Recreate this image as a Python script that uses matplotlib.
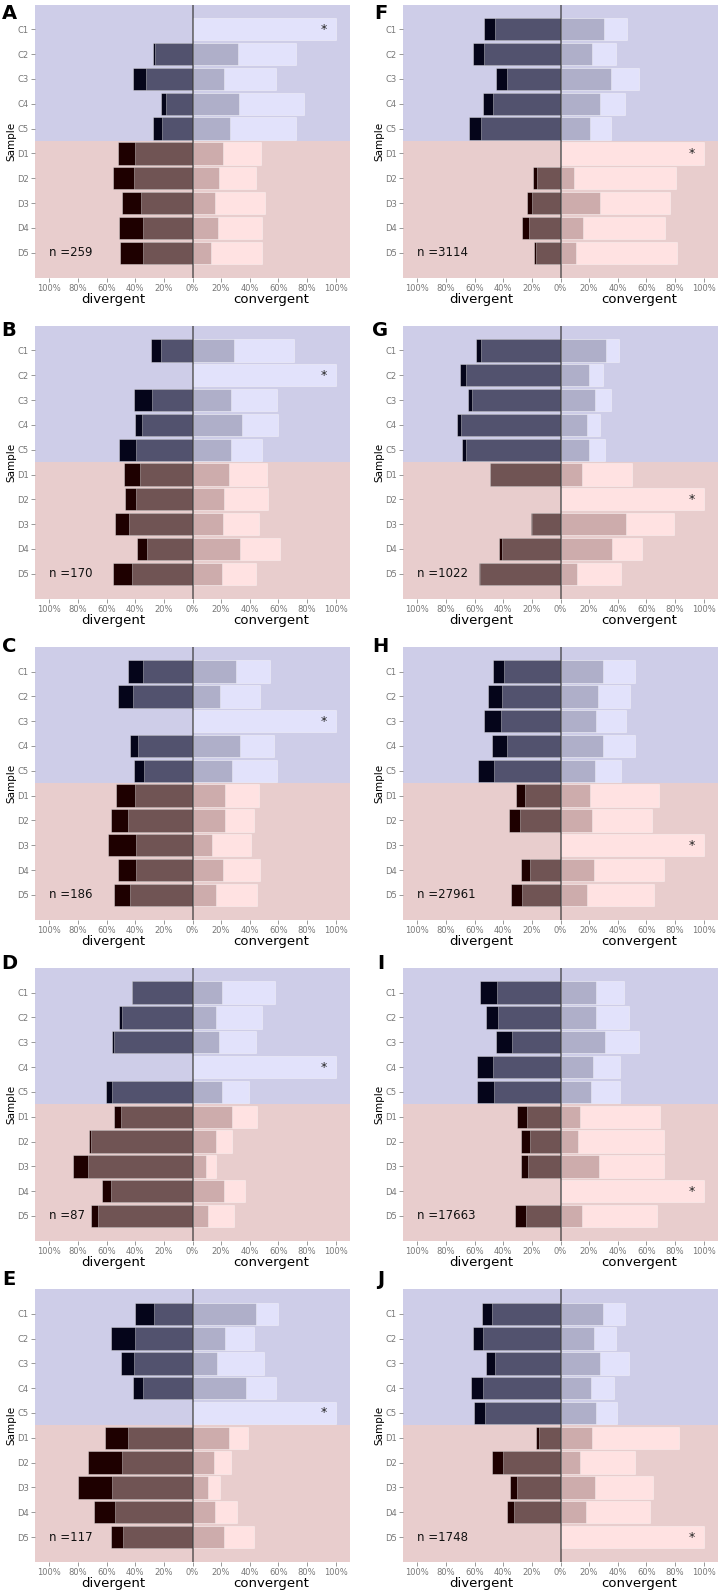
import matplotlib.pyplot as plt
import numpy as np

panels = list("ABCDEFGHIJ")
samples = ["C1", "C2", "C3", "C4", "C5", "D1", "D2", "D3", "D4", "D5"]
n_counts = [259, 170, 186, 87, 117, 3114, 1022, 27961, 17663, 1748]
self_row = [0, 1, 2, 3, 4, 5, 6, 7, 8, 9]

# outer end of the divergent bar (dark part) in %
div_total = {
    "A": [0, 27.9, 41.9, 22.1, 27.7, 51.9, 55.3, 49.5, 51.2, 50.7],
    "B": [29.1, 0, 40.9, 40.2, 51.4, 47.9, 47.2, 54.0, 39.1, 55.6],
    "C": [45.3, 52.3, 0, 43.5, 41.2, 53.5, 57.2, 59.3, 52.3, 55.1],
    "D": [42.3, 51.4, 56.0, 0, 60.7, 54.9, 72.3, 83.5, 63.0, 70.9],
    "E": [40.0, 57.0, 50.2, 41.6, 0, 61.2, 73.3, 80.0, 68.8, 57.0],
    "F": [53.5, 60.9, 45.1, 54.4, 64.2, 0, 19.3, 23.3, 27.0, 18.8],
    "G": [59.1, 70.5, 64.9, 72.6, 68.8, 49.5, 0, 20.9, 43.0, 57.2],
    "H": [47.4, 50.9, 53.5, 47.9, 57.7, 31.2, 36.0, 0, 27.4, 34.7],
    "I": [56.0, 52.1, 45.1, 58.4, 58.6, 30.2, 27.7, 27.4, 0, 32.1],
    "J": [54.9, 61.4, 51.9, 62.3, 60.5, 17.4, 47.9, 35.3, 37.7, 0],
}
# inner divergent part (medium colour)
div_inner = {
    "A": [0, 26.0, 32.6, 18.6, 21.4, 40.2, 40.7, 36.3, 34.9, 34.9],
    "B": [22.3, 0, 28.6, 35.1, 39.3, 36.7, 39.3, 44.4, 32.1, 42.1],
    "C": [34.7, 41.6, 0, 38.4, 34.0, 40.0, 44.9, 39.5, 39.5, 43.7],
    "D": [42.3, 49.3, 55.1, 0, 56.0, 50.2, 71.2, 73.0, 57.2, 66.3],
    "E": [27.0, 40.0, 40.9, 34.7, 0, 45.1, 49.3, 56.0, 54.4, 48.6],
    "F": [45.8, 53.5, 37.2, 47.4, 55.8, 0, 16.7, 20.2, 22.3, 17.2],
    "G": [55.6, 66.0, 61.6, 69.8, 65.8, 49.1, 0, 20.0, 41.2, 56.3],
    "H": [39.5, 41.2, 41.9, 37.7, 46.5, 24.9, 28.4, 0, 21.4, 27.2],
    "I": [44.4, 44.0, 34.0, 47.0, 46.5, 23.7, 21.4, 23.0, 0, 24.2],
    "J": [47.9, 54.2, 45.8, 54.2, 52.8, 14.7, 40.5, 30.7, 32.8, 0],
}
# inner convergent part (medium-light colour)
conv_inner = {
    "A": [0, 31.6, 21.9, 32.3, 26.0, 21.2, 18.6, 15.6, 17.7, 12.8],
    "B": [28.8, 0, 27.2, 34.9, 26.7, 25.3, 21.9, 21.2, 33.0, 20.7],
    "C": [30.7, 19.3, 0, 33.0, 27.4, 22.6, 22.6, 13.5, 21.6, 16.3],
    "D": [20.7, 16.3, 18.4, 0, 20.7, 27.7, 16.3, 9.3, 21.9, 10.7],
    "E": [44.4, 23.0, 17.0, 37.7, 0, 25.6, 14.7, 10.5, 15.6, 22.3],
    "F": [30.2, 21.9, 35.1, 27.4, 20.5, 0, 9.3, 27.4, 15.8, 10.7],
    "G": [31.6, 20.0, 24.2, 18.4, 20.0, 15.3, 0, 45.6, 36.0, 11.4],
    "H": [30.0, 26.5, 25.1, 30.0, 24.0, 20.5, 22.1, 0, 23.5, 18.6],
    "I": [25.1, 24.7, 30.9, 22.6, 21.2, 13.5, 12.1, 26.7, 0, 14.9],
    "J": [29.5, 23.3, 27.9, 21.2, 24.7, 21.9, 13.7, 24.0, 18.1, 0],
}
# outer end of the convergent bar (light colour)
conv_total = {
    "A": [100, 72.1, 58.1, 77.7, 72.1, 47.9, 44.2, 50.5, 48.8, 48.8],
    "B": [70.7, 100, 58.8, 59.5, 48.4, 51.9, 52.6, 46.3, 60.9, 44.2],
    "C": [54.4, 47.4, 100, 56.7, 58.8, 46.3, 42.8, 40.7, 47.4, 44.9],
    "D": [57.4, 48.4, 44.0, 100, 39.3, 44.9, 27.4, 16.3, 37.0, 28.8],
    "E": [60.0, 42.8, 49.8, 58.1, 100, 38.6, 26.7, 19.5, 30.9, 42.8],
    "F": [46.3, 38.6, 54.7, 45.3, 35.6, 100, 80.5, 76.7, 73.0, 81.2],
    "G": [41.2, 29.5, 35.1, 27.4, 31.4, 50.2, 100, 79.1, 56.7, 42.6],
    "H": [52.1, 48.8, 46.0, 51.9, 42.1, 68.6, 63.7, 100, 72.1, 65.1],
    "I": [44.0, 47.7, 54.7, 41.4, 41.4, 69.3, 72.1, 72.3, 100, 67.7],
    "J": [44.9, 38.6, 47.7, 37.7, 39.3, 82.6, 51.9, 64.4, 62.3, 100],
}

# colours for the C group and the D group
bg = {"C": "#cecde8", "D": "#e8cdcd"}
dark = {"C": "#05051a", "D": "#1e0000"}
mid = {"C": "#52526e", "D": "#705454"}
light_mid = {"C": "#afafc9", "D": "#cdacac"}
light = {"C": "#e2e2fb", "D": "#ffe2e2"}

fig = plt.figure(figsize=(7.2, 15.94), dpi=100)
FW, FH = 720, 1594


def draw_panel(ax, key, n, srow):
    y = np.arange(len(samples))
    grp = [s[0] for s in samples]
    ax.axhspan(-1, 4.5, color=bg["C"], zorder=0, lw=0)
    ax.axhspan(4.5, 10, color=bg["D"], zorder=0, lw=0)
    edge = dict(edgecolor=(1, 1, 1, 0.35), linewidth=0.7, height=0.9, zorder=2)
    ax.barh(y, -np.array(div_total[key]), color=[dark[g] for g in grp], **edge)
    ax.barh(y, -np.array(div_inner[key]), color=[mid[g] for g in grp], **edge)
    ax.barh(y, conv_total[key], color=[light[g] for g in grp], **edge)
    ax.barh(y, conv_inner[key], color=[light_mid[g] for g in grp], **edge)
    ax.axvline(0, color="#3a3a3a", lw=1.1, alpha=0.8, zorder=3)

    ax.text(92, srow, "*", ha="center", va="center", fontsize=9, color="#222")
    ax.text(-100, 9, f"n ={n}", ha="left", va="center", fontsize=8.5, color="#111")

    ax.set_xlim(-110, 110)
    ax.set_ylim(10, -1)
    ticks = np.arange(-100, 101, 20)
    ax.set_xticks(ticks)
    ax.set_xticklabels([f"{abs(t)}%" for t in ticks])
    ax.set_yticks(y)
    ax.set_yticklabels(samples)
    ax.tick_params(labelsize=6, labelcolor="#777", color="#888",
                   length=3, width=0.6, pad=1.5)
    for s in ax.spines.values():
        s.set_visible(False)

    tr = ax.get_xaxis_transform()
    ax.text(-55, -0.08, "divergent", transform=tr, ha="center", va="center", fontsize=9.5)
    ax.text(55, -0.08, "convergent", transform=tr, ha="center", va="center", fontsize=9.5)
    ax.text(-0.075, 0.5, "Sample", transform=ax.transAxes, rotation=90,
            ha="center", va="center", fontsize=7.5)


col_left = [35, 403]
letter_x = [9, 380.5]
for i, key in enumerate(panels):
    col, row = divmod(i, 5)
    top = 4.5 + 321.1 * row
    ax = fig.add_axes([col_left[col] / FW, 1 - (top + 273) / FH, 315 / FW, 273 / FH])
    draw_panel(ax, key, n_counts[i], self_row[i])
    fig.text(letter_x[col] / FW, 1 - (13.7 + 316.5 * row) / FH, key,
             ha="center", va="center", fontsize=14, fontweight="bold")

fig.savefig("out.png", dpi=100)
